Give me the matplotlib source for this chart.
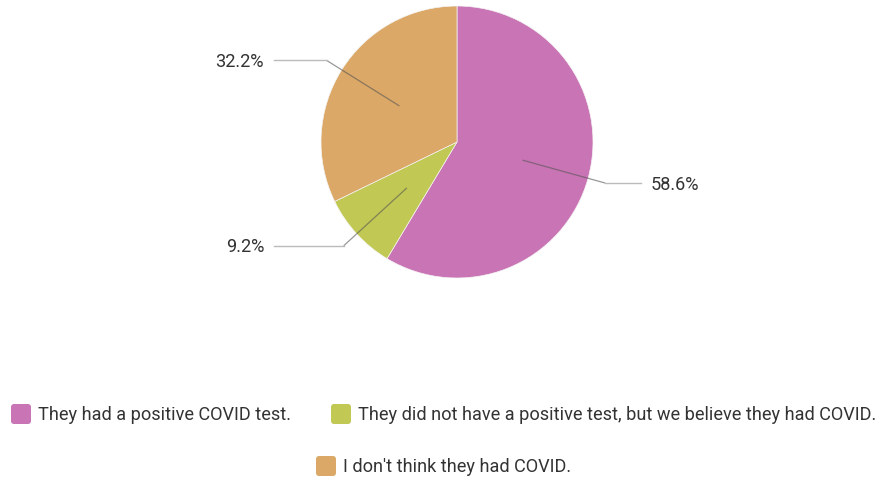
import numpy as np
import matplotlib
matplotlib.use("Agg")
import matplotlib.pyplot as plt
from matplotlib.patches import FancyBboxPatch

categories = [
    "They had a positive COVID test.",
    "They did not have a positive test, but we believe they had COVID.",
    "I don't think they had COVID.",
]
shares = [58.6, 9.2, 32.2]
value_labels = ["58.6%", "9.2%", "32.2%"]
colors = ["#C974B4", "#C1C853", "#DBA867"]

W, H = 885, 481
plt.rcParams["font.family"] = ["Roboto", "DejaVu Sans"]
fig = plt.figure(figsize=(W / 100, H / 100), dpi=100)
ax = fig.add_axes([0, 0, 1, 1])

cx, cy, R = 457, H - 143, 136
wedges, _ = ax.pie(shares, colors=colors, startangle=90, counterclock=False,
                   center=(cx, cy), radius=R, frame=True,
                   wedgeprops=dict(linewidth=0.5, edgecolor="#f4f4f4"))
ax.set_xlim(0, W)
ax.set_ylim(0, H)
ax.set_aspect("equal")
ax.axis("off")

text_color = "#333333"
fs = 13.1
for w, lab in zip(wedges, value_labels):
    mid = np.deg2rad((w.theta1 + w.theta2) / 2)
    x0, y0 = cx + 0.5 * R * np.cos(mid), cy + 0.5 * R * np.sin(mid)
    x1, y1 = cx + 1.13 * R * np.cos(mid), cy + 1.13 * R * np.sin(mid)
    if np.cos(mid) >= 0:
        x2, tx, ha = 641, 651, "left"
    else:
        x2, tx, ha = 274, 264, "right"
    # inner part drawn darker over the slice
    ax.plot([x0, x1], [y0, y1], color="#555555", lw=0.9, alpha=0.6, zorder=3,
            solid_capstyle="butt")
    ax.plot([x1, x2], [y1, y1], color="#BBBBBB", lw=1.0, zorder=3)
    ax.text(tx, y1 - 0.5, lab, ha=ha, va="center", fontsize=fs, color=text_color)

# legend drawn below the pie
legend_items = [(11, 415), (331, 415), (316, 467)]
for (lx, ly), c, name in zip(legend_items, colors, categories):
    y = H - ly
    ax.add_patch(FancyBboxPatch((lx + 2, y - 8), 16, 16,
                                boxstyle="round,pad=2,rounding_size=3",
                                facecolor=c, edgecolor="none"))
    ax.text(lx + 27, y, name, ha="left", va="center", fontsize=fs,
            color=text_color)

fig.savefig("out.png", dpi=100)
